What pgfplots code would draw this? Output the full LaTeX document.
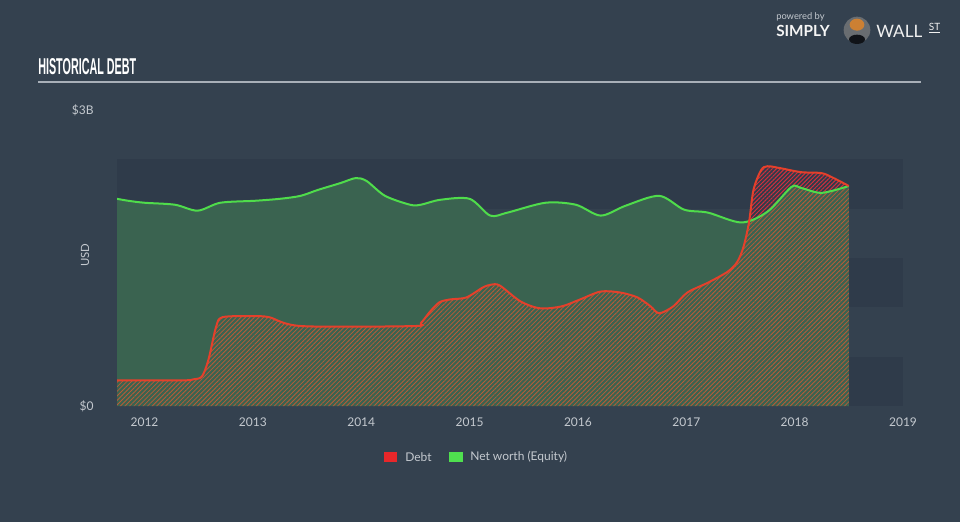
\documentclass[border=0pt]{standalone}
\usepackage{fontspec}
\setmainfont{Lato}
\newfontfamily\titlefont{Liberation Sans}
\usepackage{pgfplots}
\pgfplotsset{compat=1.18}
\usepackage{pgfplotstable}
\usepgfplotslibrary{fillbetween}
\usetikzlibrary{patterns.meta}
\definecolor{bg}{HTML}{34414F}
\definecolor{band}{HTML}{2F3B4A}
\definecolor{eqfill}{HTML}{3A6350}
\definecolor{eqline}{HTML}{4FDC4B}
\definecolor{debtline}{HTML}{E5402B}
\definecolor{debthatch}{HTML}{B85C38}
\definecolor{redhatch}{HTML}{D0303E}
\definecolor{axgray}{HTML}{A8AFB8}
\definecolor{txtgray}{HTML}{C4C9CF}
\definecolor{legred}{HTML}{E8272A}
\definecolor{leggreen}{HTML}{4FE04F}

\pgfplotstableread{
year val
2011.746 2.10
2011.85 2.08
2012.00 2.06
2012.28 2.04
2012.49 1.98
2012.70 2.06
2013.02 2.08
2013.25 2.10
2013.44 2.13
2013.60 2.19
2013.81 2.26
2013.95 2.31
2014.05 2.28
2014.22 2.13
2014.45 2.04
2014.55 2.04
2014.73 2.09
2015.00 2.10
2015.19 1.93
2015.35 1.96
2015.70 2.06
2015.98 2.04
2016.21 1.93
2016.44 2.03
2016.75 2.13
2016.98 1.99
2017.20 1.96
2017.51 1.86
2017.75 1.97
2017.97 2.22
2018.06 2.21
2018.25 2.16
2018.50 2.23
}\equity

\pgfplotstableread{
year val
2011.746 0.26
2012.35 0.26
2012.45 0.27
2012.53 0.30
2012.59 0.47
2012.66 0.80
2012.72 0.90
2013.00 0.91
2013.15 0.90
2013.45 0.81
2014.48 0.81
2014.55 0.84
2014.63 0.95
2014.72 1.05
2014.82 1.08
2014.97 1.10
2015.12 1.20
2015.20 1.23
2015.28 1.22
2015.47 1.06
2015.65 0.99
2015.85 1.01
2016.02 1.08
2016.21 1.16
2016.39 1.15
2016.55 1.10
2016.67 1.01
2016.75 0.94
2016.88 1.01
2017.01 1.15
2017.20 1.25
2017.38 1.36
2017.47 1.46
2017.53 1.62
2017.58 1.87
2017.62 2.19
2017.69 2.39
2017.75 2.43
2017.87 2.41
2018.06 2.37
2018.25 2.36
2018.36 2.31
2018.50 2.23
}\debt

\begin{document}
\begin{tikzpicture}
\fill[bg] (0pt,0pt) rectangle (720pt,391.5pt);
% title
\node[anchor=west, inner sep=0pt, text=white] at (28.5pt,341.25pt) {\resizebox{73.5pt}{12pt}{\titlefont\bfseries HISTORICAL DEBT}};
\draw[axgray, line width=1.1pt] (28.5pt,330pt) -- (690.75pt,330pt);
% logo
\node[anchor=west, inner sep=0pt, text=txtgray, font=\fontsize{7}{8}\selectfont] at (582pt,378.75pt) {powered by};
\node[anchor=west, inner sep=0pt, text=white!92!gray, font=\fontsize{11.5}{12}\selectfont\bfseries] at (582pt,368.25pt) {SIMPLY};
\fill[gray!70!bg] (642.75pt,369pt) circle (10pt);
\fill[brown!80!orange] (642.75pt,373pt) ellipse (5.5pt and 4.5pt);
\fill[black!70!bg] (642.75pt,362pt) ellipse (6pt and 3.5pt);
\node[anchor=west, inner sep=0pt, text=white!88!gray, font=\fontsize{12.8}{13}\selectfont] at (657pt,368.25pt) {WALL};
\node[anchor=west, inner sep=0pt, text=white!88!gray, font=\fontsize{7.5}{8}\selectfont] at (696.5pt,370.5pt) {\underline{ST}};
% y label
\node[rotate=90, text=txtgray, font=\fontsize{8.5}{10}\selectfont] at (63.75pt,200.25pt) {USD};
% legend
\fill[legred] (288pt,45pt) rectangle (297.75pt,52.5pt);
\node[anchor=west, inner sep=0pt, text=txtgray, font=\fontsize{9}{10}\selectfont] at (303.75pt,48.75pt) {Debt};
\fill[leggreen] (336.75pt,45pt) rectangle (347.25pt,52.5pt);
\node[anchor=west, inner sep=0pt, text=txtgray, font=\fontsize{9}{10}\selectfont] at (352.5pt,48.75pt) {Net worth (Equity)};
\begin{axis}[
  at={(87.75pt,87pt)}, anchor=south west,
  scale only axis, width=589.5pt, height=222pt,
  xmin=2011.746, xmax=2019, ymin=0, ymax=3,
  axis x line*=bottom, axis y line*=left,
  y axis line style={draw=none},
  x axis line style={draw=axgray, line width=0.8pt, -},
  xtick={2012,2013,2014,2015,2016,2017,2018,2019},
  xticklabels={2012,2013,2014,2015,2016,2017,2018,2019},
  ytick={0,3}, yticklabels={\$0,\$3B},
  tick align=outside, major tick length=6pt,
  xtick style={draw=axgray, line width=0.8pt},
  ytick style={draw=none},
  /pgf/number format/assume math mode=true,
  ticklabel style={text=txtgray, font=\fontsize{9}{10}\selectfont},
  yticklabel style={xshift=-8pt},
  xticklabel style={yshift=1pt},
  fill between/on layer=main,
  clip=true,
]
\fill[band] (axis cs:2011.746,0) rectangle (axis cs:2019,0.5);
\fill[band] (axis cs:2011.746,1) rectangle (axis cs:2019,1.5);
\fill[band] (axis cs:2011.746,2) rectangle (axis cs:2019,2.5);
\addplot[name path=eq, draw=none, smooth, tension=0.5] table[x=year,y=val]{\equity};
\addplot[name path=debt, draw=none, smooth, tension=0.5] table[x=year,y=val]{\debt};
\path[name path=zero] (axis cs:2011.746,0) -- (axis cs:2018.5,0);
\addplot[fill=eqfill, draw=none] fill between[of=eq and zero];
\addplot[draw=none, pattern={Lines[angle=45,distance=2.4pt,line width=0.6pt]}, pattern color=debthatch] fill between[of=debt and zero];
\addplot[fill=band, draw=none] fill between[of=debt and eq, soft clip={domain=2017.585:2018.5}];
\addplot[draw=none, pattern={Lines[angle=45,distance=2.2pt,line width=0.75pt]}, pattern color=redhatch] fill between[of=debt and eq, soft clip={domain=2017.585:2018.5}];
\addplot[eqline, line width=1.5pt, smooth, tension=0.5] table[x=year,y=val]{\equity};
\addplot[debtline, line width=1.5pt, smooth, tension=0.5] table[x=year,y=val]{\debt};
\end{axis}
\end{tikzpicture}
\end{document}
